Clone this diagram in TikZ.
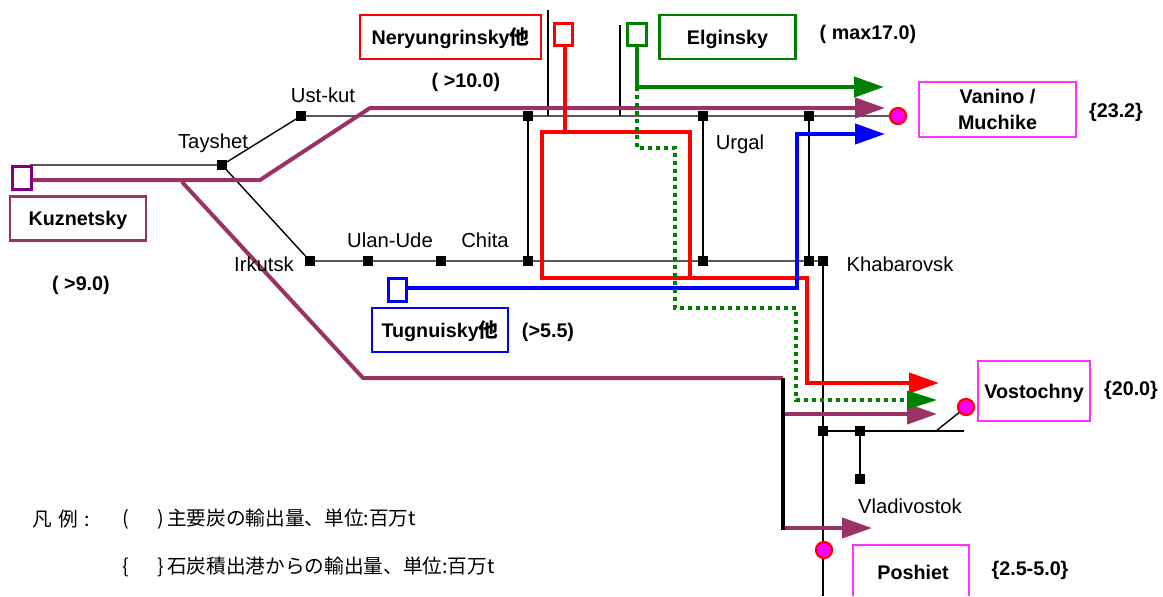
\documentclass[tikz,border=0pt]{standalone}
\usepackage{fontspec}
\setmainfont{Liberation Sans}
\newfontfamily\cjk{Noto Sans CJK JP}
\usetikzlibrary{arrows.meta}
\definecolor{coalp}{HTML}{993366}
\definecolor{boxp}{HTML}{800080}
\definecolor{coalg}{HTML}{008000}
\definecolor{portm}{HTML}{FF33FF}
\definecolor{portf}{HTML}{FF00FF}
\tikzset{
  stn/.style={fill=black,draw=none,minimum size=7.5pt,inner sep=0pt,outer sep=0pt},
  rail/.style={draw=black,line width=1.05pt},
  flow/.style={line width=3pt,line join=miter},
  tipped/.style={-{Triangle[length=22.5pt,width=15pt]}},
  mine/.style={draw=#1,fill=white,line width=2.2pt,minimum width=14pt,minimum height=17pt,inner sep=0pt},
  lab/.style={font=\fontsize{15.2}{17}\selectfont,inner sep=0pt},
  blab/.style={font=\fontsize{14.8}{19}\selectfont\bfseries,inner sep=0pt,align=center},
  namebox/.style={draw=#1,line width=2.2pt,inner sep=0pt,font=\fontsize{14.8}{19}\selectfont\bfseries,align=center,text height=10.6pt,text depth=0pt},
  portbox/.style={draw=portm,line width=1.7pt,inner sep=0pt,font=\fontsize{14.8}{19}\selectfont\bfseries,align=center,text height=10.6pt,text depth=0pt},
  port/.style={circle,fill=portf,draw=red,line width=1.7pt,minimum size=12pt,inner sep=0pt},
  leg/.style={font=\fontsize{14.75}{17}\selectfont\cjk,inner sep=0pt,anchor=west},
}
\begin{document}
\begin{tikzpicture}[x=0.75pt,y=-0.75pt]
\useasboundingbox (0,0) rectangle (1163,596);
% stations
\node[stn] (ust) at (301,116) {};
\node[stn] (n1) at (528,116) {};
\node[stn] (urg) at (703,116) {};
\node[stn] (n2) at (809,116) {};
\node[stn] (tay) at (222,165) {};
\node[stn] (irk) at (310,261) {};
\node[stn] (ula) at (368,261) {};
\node[stn] (s3) at (441,261) {};
\node[stn] (chi) at (528,261) {};
\node[stn] (s4) at (703,261) {};
\node[stn] (s5) at (809,261) {};
\node[stn] (kha) at (823,261) {};
\node[stn] (v1) at (823,431) {};
\node[stn] (v2) at (860,431) {};
\node[stn] (vla) at (860,479) {};
% free rail ends
\coordinate (w) at (30,165);
\coordinate (t1) at (548,10);
\coordinate (t1b) at (548,116);
\coordinate (t2) at (620,25);
\coordinate (t2b) at (620,116);
\coordinate (south) at (823,596);
\coordinate (vend) at (964,431);
\coordinate (vbr) at (936,431);
% ports
\coordinate (vanc) at (898,116);
\coordinate (vosc) at (966,407);
\coordinate (posc) at (824,550);
% rails
\draw[rail] (w) -- (tay) -- (ust) -- (n1) -- (urg) -- (n2) -- (vanc);
\draw[rail] (tay) -- (irk) -- (ula) -- (s3) -- (chi) -- (s4) -- (s5) -- (kha);
\draw[rail] (n1) -- (chi);
\draw[rail] (urg) -- (s4);
\draw[rail] (n2) -- (s5);
\draw[rail] (t1) -- (t1b);
\draw[rail] (t2) -- (t2b);
\draw[rail] (kha) -- (v1) -- (south);
\draw[rail] (v1) -- (v2) -- (vend);
\draw[rail] (v2) -- (vla);
\draw[rail] (vbr) -- (vosc);
% purple routes
\coordinate (ka) at (32,180);
\coordinate (kb) at (260,180);
\coordinate (kc) at (370,108);
\coordinate (ktip) at (885,108);
\coordinate (kd) at (182,182);
\coordinate (ke) at (363,378);
\coordinate (kf) at (783,378);
\coordinate (kg) at (783,530);
\coordinate (kh) at (785,414);
\coordinate (kvtip) at (937,414);
\coordinate (ki) at (785,528);
\coordinate (kptip) at (872,528);
\draw[flow,draw=coalp] (kd) -- (ke) -- (kf);
\draw[flow,draw=black] (kf) -- (kg);
\draw[flow,draw=coalp,tipped] (ka) -- (kb) -- (kc) -- (ktip);
\draw[flow,draw=coalp,tipped] (kh) -- (kvtip);
\draw[flow,draw=coalp,tipped] (ki) -- (kptip);
% green routes
\coordinate (ga) at (637,46);
\coordinate (gb) at (637,87);
\coordinate (gtip) at (884,87);
\coordinate (gc) at (637,148);
\coordinate (gd) at (675,148);
\coordinate (ge) at (675,308);
\coordinate (gf) at (796,308);
\coordinate (gg) at (796,400);
\coordinate (gh) at (908,400);
% red routes
\coordinate (ra) at (565,46);
\coordinate (rb) at (565,132);
\coordinate (rc) at (542,132);
\coordinate (rd) at (690,132);
\coordinate (re) at (690,278);
\coordinate (rf) at (542,278);
\coordinate (rg) at (807,278);
\coordinate (rh) at (807,383);
\coordinate (rtip) at (939,383);
\draw[flow,draw=red] (ra) -- (rb);
\draw[flow,draw=red] (rc) -- (rd) -- (re) -- (rf) -- cycle;
\draw[flow,draw=red,tipped] (re) -- (rg) -- (rh) -- (rtip);
% blue route
\coordinate (ba) at (406,288);
\coordinate (bb) at (797,288);
\coordinate (bc) at (797,134);
\coordinate (btip) at (885,134);
\draw[flow,draw=blue,tipped] (ba) -- (bb) -- (bc) -- (btip);
% green on top
\draw[flow,draw=coalg,tipped] (ga) -- (gb) -- (gtip);
\draw[flow,draw=coalg,dash pattern=on 3pt off 3pt] (gb) -- (gc) -- (gd) -- (ge) -- (gf) -- (gg) -- (gh);
\fill[coalg] (907,390.5) -- (937,400) -- (907,409.5) -- cycle;
% mines
\node[mine=boxp] (mk) at (22,178) {};
\node[mine=red] (mn) at (563.5,34.5) {};
\node[mine=coalg] (me) at (637,34.5) {};
\node[mine=blue] (mt) at (397.5,290) {};
% ports
\node[port] (van) at (vanc) {};
\node[port] (vos) at (vosc) {};
\node[port] (pos) at (posc) {};
% name boxes
\node[namebox=red,minimum width=135.75pt,minimum height=33pt] (nb) at (450.5,37) {Neryungrinsky{\cjk\bfseries 他}};
\node[namebox=coalg,minimum width=102pt,minimum height=33pt] (eb) at (727.5,37) {Elginsky};
\node[namebox=coalp,minimum width=102pt,minimum height=33pt] (kb2) at (78,218.5) {Kuznetsky};
\node[namebox=blue,minimum width=102pt,minimum height=33pt] (tb) at (440,330) {Tugnuisky{\cjk\bfseries 他}};
\node[portbox,minimum width=117.5pt,minimum height=41.5pt,text height=29.6pt] (vb) at (997.5,109.5) {Vanino /\\Muchike};
\node[portbox,minimum width=84pt,minimum height=45pt] (vsb) at (1034,391) {Vostochny};
\coordinate (pb1) at (853,596);
\coordinate (pb2) at (853,545);
\coordinate (pb3) at (969,545);
\coordinate (pb4) at (969,596);
\draw[draw=portm,line width=1.7pt] (pb1) -- (pb2) -- (pb3) -- (pb4);
\node[blab] (pt) at (913,572.5) {Poshiet};
% quantities
\node[blab] (q1) at (466,82) {( >10.0)};
\node[blab] (q2) at (868,34) {( max17.0)};
\node[blab] (q3) at (1116,112) {\{23.2\}};
\node[blab] (q4) at (1131,390) {\{20.0\}};
\node[blab] (q5) at (1030,570) {\{2.5-5.0\}};
\node[blab] (q6) at (548,332) {(>5.5)};
\node[blab] (q7) at (81,285) {( >9.0)};
% places
\node[lab] (l1) at (323,95) {Ust-kut};
\node[lab] (l2) at (213,143) {Tayshet};
\node[lab] (l3) at (264,264) {Irkutsk};
\node[lab] (l4) at (390,240) {Ulan-Ude};
\node[lab] (l5) at (485,240) {Chita};
\node[lab] (l6) at (740,144) {Urgal};
\node[lab] (l7) at (900,264) {Khabarovsk};
\node[lab] (l8) at (910,506) {Vladivostok};
% legend
\node[leg] (g1) at (32,519) {凡\,\,例\,\,:};
\node[leg] (g2) at (122,519) {(};
\node[leg] (g3) at (157,519) {)\,主要炭の輸出量、単位:百万t};
\node[leg] (g4) at (122,567) {\{};
\node[leg] (g5) at (157,567) {\}\,石炭積出港からの輸出量、単位:百万t};
\end{tikzpicture}
\end{document}
